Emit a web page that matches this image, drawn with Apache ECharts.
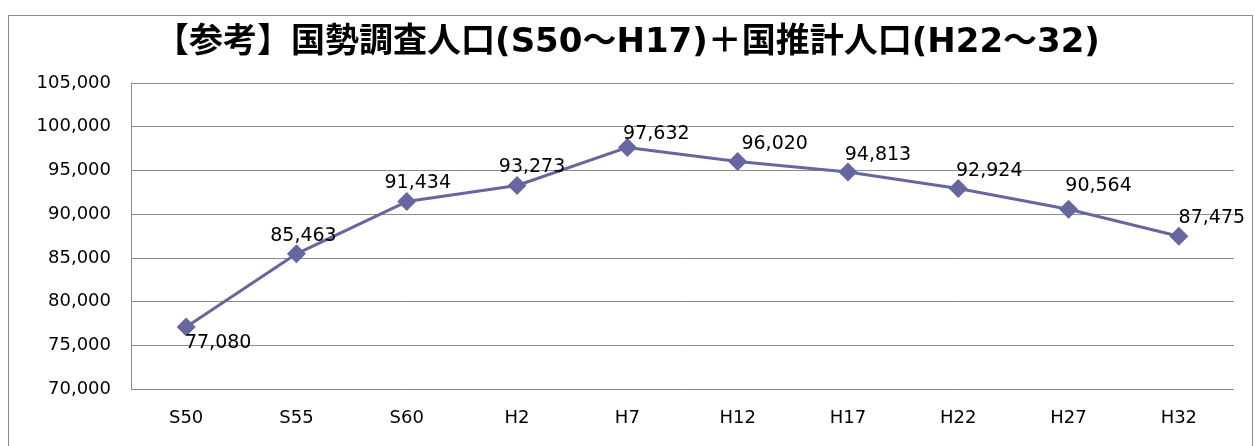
<!DOCTYPE html>
<html>
<head>
<meta charset="utf-8">
<script src="https://cdn.jsdelivr.net/npm/echarts@6/dist/echarts.min.js"></script>
<style>
  html, body { margin: 0; padding: 0; background: #fff; }
  #chart { width: 1255px; height: 446px; }
  .frame {
    position: absolute; left: 8px; top: 15px; width: 1243px; height: 440px;
    border: 1px solid #8c8c8c; pointer-events: none;
  }
</style>
</head>
<body>
<div id="chart"></div>
<div class="frame"></div>
<script>
const titleText = '【参考】国勢調査人口(S50～H17)＋国推計人口(H22～32)'
const categories = ['S50', 'S55', 'S60', 'H2', 'H7', 'H12', 'H17', 'H22', 'H27', 'H32']
const population = [77080, 85463, 91434, 93273, 97632, 96020, 94813, 92924, 90564, 87475]
const yMin = 70000
const yMax = 105000
const yStep = 5000

// label placement (manually moved labels in the original), relative to the marker
const labelShift = [[32, 16], [7, -18], [11, -19], [15, -18], [29, -13],
                    [37, -17], [30, -17], [31, -18], [30, -23], [33, -18]]

const chart = echarts.init(document.getElementById('chart'))

const fmt = v => v.toLocaleString('en-US')
const numFont = '"DejaVu Sans"'

const option = {
  animation: false,
  title: {
    text: titleText,
    left: 'center',
    top: 21,
    textStyle: {
      fontFamily: '"DejaVu Sans", "Noto Sans CJK JP"',
      fontWeight: 'bold',
      fontSize: 34,
      color: '#000'
    }
  },
  grid: { left: 131, right: 21, top: 83, bottom: 57 },
  xAxis: {
    type: 'category',
    data: categories,
    boundaryGap: true,
    axisLine: { show: false },
    axisTick: { show: false },
    axisLabel: {
      color: '#000', fontSize: 18, fontFamily: numFont, margin: 20
    }
  },
  yAxis: {
    type: 'value',
    min: yMin,
    max: yMax,
    interval: yStep,
    axisLine: { show: true, lineStyle: { color: '#8c8c8c' } },
    axisTick: { show: false },
    splitLine: { lineStyle: { color: '#8c8c8c', width: 1 } },
    axisLabel: {
      color: '#000', fontSize: 18, fontFamily: numFont, margin: 20,
      formatter: v => fmt(v)
    }
  },
  series: [{
    type: 'line',
    data: population.map((v, i) => ({
      value: v,
      label: { offset: labelShift[i] }
    })),
    symbol: 'diamond',
    symbolSize: 19,
    lineStyle: { color: '#6667a1', width: 3 },
    itemStyle: { color: '#6667a1' },
    label: {
      show: true,
      position: 'inside',
      color: '#000',
      fontSize: 19,
      fontFamily: numFont,
      formatter: p => fmt(p.value)
    }
  }]
}

chart.setOption(option)
</script>
</body>
</html>
